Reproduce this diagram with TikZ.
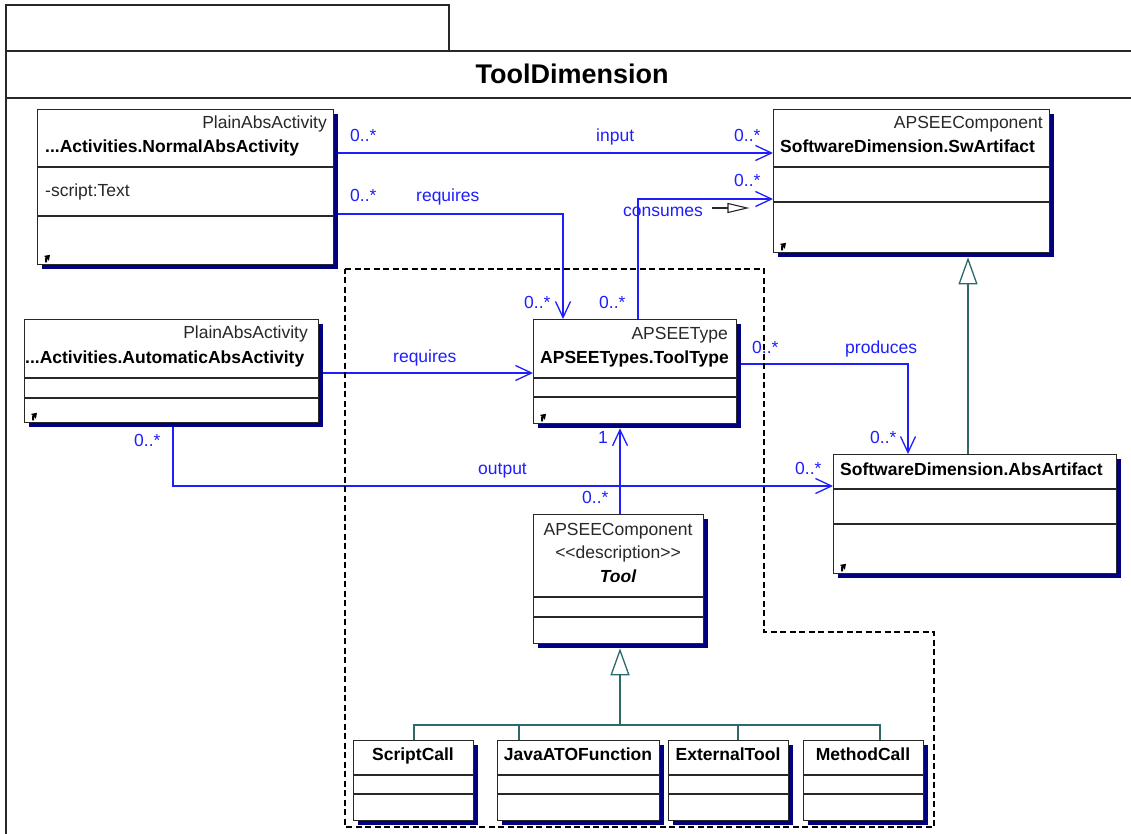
\documentclass[tikz,border=0pt]{standalone}
\usepackage{fontspec}
\setmainfont{Liberation Sans}
\usetikzlibrary{arrows.meta,shadows,backgrounds}

\definecolor{umlblue}{RGB}{30,30,255}
\definecolor{umlshadow}{RGB}{0,0,128}
\definecolor{umlteal}{RGB}{45,105,105}
\definecolor{umledge}{RGB}{40,40,40}

\tikzset{
  cls/.style={draw=umledge, line width=1.3pt, fill=white, inner sep=0pt, anchor=north west,
    drop shadow={shadow xshift=4pt, shadow yshift=-4pt, fill=umlshadow, opacity=1}},
  divider/.style={draw=umledge, line width=1.3pt},
  stereo/.style={inner sep=0pt, text=umledge, font=\fontsize{17.5}{20}\selectfont},
  cname/.style={inner sep=0pt, text=black, font=\bfseries\fontsize{17.5}{20}\selectfont},
  lbl/.style={inner sep=0pt, text=umlblue, font=\fontsize{17.5}{20}\selectfont, anchor=base west},
  assoc/.style={draw=umlblue, line width=1.3pt},
  navig/.style={assoc, -{Straight Barb[length=16pt,width=15pt]}},
  gen/.style={draw=umlteal, line width=1.3pt},
  genhead/.style={gen, -{Triangle[open,length=27pt,width=19pt]}},
  region/.style={draw=black, line width=2pt, dash pattern=on 6pt off 3.5pt},
  frameln/.style={draw=umledge, line width=1.3pt},
}

% compartment separator, #2 = distance below the top edge
\newcommand\clsdiv[2]{\draw[divider] ([yshift=-#2pt]#1.north west) -- ([yshift=-#2pt]#1.north east);}
% small hyperlink mark in the lower left corner of a class
\newcommand\lnkmark[1]{\draw[line width=2pt, black, -{Triangle[length=5pt,width=6.5pt]}]
  ([shift={(9pt,3pt)}]#1.south west) -- ++(0pt,3.5pt) -- ++(4pt,4pt);}

\begin{document}
\begin{tikzpicture}[x=1pt,y=1pt]
\useasboundingbox (0,0) rectangle (1131,-834);

% ---------- classes ----------
\node[cls, minimum width=296pt, minimum height=155pt] (normal) at (37,-109) {};
\node[cls, minimum width=276pt, minimum height=143pt] (swart) at (773,-109) {};
\node[cls, minimum width=294pt, minimum height=103pt] (auto) at (24,-319) {};
\node[cls, minimum width=203pt, minimum height=104pt] (tooltype) at (533,-319) {};
\node[cls, minimum width=283pt, minimum height=119pt] (absart) at (833,-454) {};
\node[cls, minimum width=170pt, minimum height=129pt] (tool) at (533,-514) {};
\node[cls, minimum width=120pt, minimum height=80pt] (scriptcall) at (353,-740) {};
\node[cls, minimum width=162pt, minimum height=80pt] (java) at (497,-740) {};
\node[cls, minimum width=120pt, minimum height=80pt] (exttool) at (668,-740) {};
\node[cls, minimum width=120pt, minimum height=80pt] (methodcall) at (803,-740) {};

\clsdiv{normal}{58}\clsdiv{normal}{107}
\clsdiv{swart}{58}\clsdiv{swart}{93}
\clsdiv{auto}{59}\clsdiv{auto}{79}
\clsdiv{tooltype}{59}\clsdiv{tooltype}{78}
\clsdiv{absart}{35}\clsdiv{absart}{70}
\clsdiv{tool}{83}\clsdiv{tool}{103}
\clsdiv{scriptcall}{35}\clsdiv{scriptcall}{54}
\clsdiv{java}{35}\clsdiv{java}{54}
\clsdiv{exttool}{35}\clsdiv{exttool}{54}
\clsdiv{methodcall}{35}\clsdiv{methodcall}{54}

\lnkmark{normal}\lnkmark{swart}\lnkmark{auto}\lnkmark{tooltype}\lnkmark{absart}

% class texts
\node[stereo, anchor=base east] (normalst) at (327,-129) {PlainAbsActivity};
\node[cname, anchor=base west] (normalnm) at (45,-153) {...Activities.NormalAbsActivity};
\node[stereo, anchor=base west] (normalat) at (45,-197) {-script:Text};

\node[stereo, anchor=base east] (swartst) at (1043,-129) {APSEEComponent};
\node[cname, anchor=base west] (swartnm) at (780,-153) {SoftwareDimension.SwArtifact};

\node[stereo, anchor=base east] (autost) at (308,-338) {PlainAbsActivity};
\node[cname, anchor=base west] (autonm) at (25,-363) {...Activities.AutomaticAbsActivity};

\node[stereo, anchor=base east] (tooltypest) at (728,-339) {APSEEType};
\node[cname, anchor=base west] (tooltypenm) at (540,-363) {APSEETypes.ToolType};

\node[cname, anchor=base west] (absartnm) at (840,-475) {SoftwareDimension.AbsArtifact};

\node[stereo, anchor=base] (toolst) at (618,-535) {APSEEComponent};
\node[stereo, anchor=base] (toolkw) at (618,-558) {<\kern0pt<description>\kern0pt>};
\node[cname, anchor=base, font=\bfseries\itshape\fontsize{17.5}{20}\selectfont] (toolnm) at (618,-582) {Tool};

\node[cname, anchor=base] (scriptcallnm) at (413,-760) {ScriptCall};
\node[cname, anchor=base] (javanm) at (578,-760) {JavaATOFunction};
\node[cname, anchor=base] (exttoolnm) at (728,-760) {ExternalTool};
\node[cname, anchor=base] (methodcallnm) at (863,-760) {MethodCall};

\begin{pgfonlayer}{background}
% ---------- diagram frame ----------
\draw[frameln] (6,-5) rectangle (449,-51);
\draw[frameln] (6,-51) -- (1131,-51);
\draw[frameln] (6,-98) -- (1131,-98);
\draw[frameln] (6,-51) -- (6,-834);

% ---------- associations ----------
\draw[navig] ([yshift=-44pt]normal.north east) -- ([yshift=-44pt]swart.north west);
\draw[navig] ([yshift=-105pt]normal.north east) -| ([xshift=30pt]tooltype.north west);
\draw[navig] ([xshift=105pt]tooltype.north west) |- ([yshift=-90pt]swart.north west);
\draw[navig] ([yshift=-54pt]auto.north east) -- ([yshift=-54pt]tooltype.north west);
\draw[navig] ([yshift=-45pt]tooltype.north east) -| ([xshift=75pt]absart.north west);
\draw[navig] ([xshift=149pt]auto.south west) |- ([yshift=-32pt]absart.north west);
\draw[navig] ([xshift=87pt]tool.north west) -- ([xshift=87pt,yshift=-4pt]tooltype.south west);

% ---------- generalizations ----------
\draw[genhead] ([xshift=135pt]absart.north west) -- ([xshift=195pt,yshift=-4pt]swart.south west);
\coordinate (bus) at (620,-725);
\draw[gen] ([xshift=61pt]scriptcall.north west) |- (bus) -| ([xshift=77pt]methodcall.north west);
\draw[gen] ([xshift=22pt]java.north west) |- (bus);
\draw[gen] ([xshift=70pt]exttool.north west) |- (bus);
\draw[genhead] (bus) -- ([xshift=87pt,yshift=-4pt]tool.south west);
\end{pgfonlayer}

% ---------- tool package region ----------
\draw[region] (345,-269) -- (764,-269) -- (764,-632) -- (934,-632) -- (934,-827) -- (345,-827) -- cycle;

% direction marker of "consumes"
\draw[umledge, line width=1.1pt] (712,-208) -- (728,-208);
\draw[umledge, line width=1.1pt, fill=white] (728,-203.5) -- (747,-208) -- (728,-212.5) -- cycle;

% ---------- title ----------
\node[cname, anchor=base, font=\bfseries\fontsize{27}{30}\selectfont] (title) at (572,-84) {ToolDimension};

% ---------- association labels ----------
\node[lbl] (m1) at (350,-142) {0..*};
\node[lbl] (l1) at (596,-142) {input};
\node[lbl] (m2) at (734,-142) {0..*};
\node[lbl] (m3) at (734,-187) {0..*};
\node[lbl] (m4) at (350,-202) {0..*};
\node[lbl] (l2) at (416,-202) {requires};
\node[lbl] (m5) at (524,-308) {0..*};
\node[lbl] (m6) at (599,-308) {0..*};
\node[lbl] (l3) at (623,-217) {consumes};
\node[lbl] (l4) at (393,-362) {requires};
\node[lbl] (m7) at (752,-353) {0..*};
\node[lbl] (l5) at (845,-353) {produces};
\node[lbl] (m8) at (870,-443) {0..*};
\node[lbl] (m9) at (598,-443) {1};
\node[lbl] (m10) at (795,-474) {0..*};
\node[lbl] (l6) at (478,-474) {output};
\node[lbl] (m11) at (134,-446) {0..*};
\node[lbl] (m12) at (582,-503) {0..*};
\end{tikzpicture}
\end{document}
